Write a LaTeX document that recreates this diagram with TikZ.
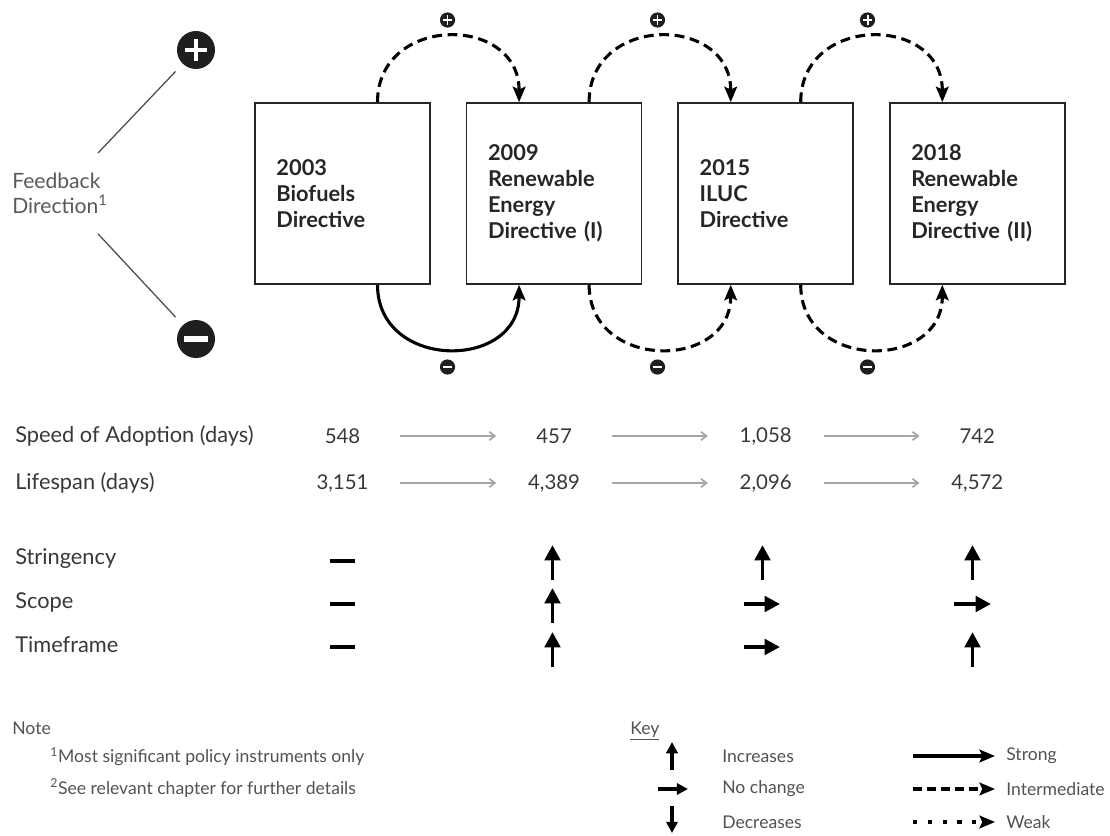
\documentclass[tikz,border=0pt]{standalone}
\usepackage{fontspec}
\setmainfont{Lato}
\usetikzlibrary{arrows.meta,positioning,calc}

\begin{document}
\begin{tikzpicture}[
    x=0.025cm, y=-0.025cm,
    node distance=0.875cm,
    dirbox/.style={rectangle, draw=black!85, line width=1.1pt, minimum width=4.375cm, minimum height=4.525cm, text width=3.3cm, align=left, inner sep=0pt, font=\fontsize{15.5}{18.5}\selectfont\bfseries, text=black!85},
    lbl/.style={anchor=west, inner sep=0pt, font=\fontsize{15.5}{18}\selectfont, text=black!78},
    num/.style={inner sep=0pt, minimum width=2.875cm, font=\fontsize{14.5}{17}\selectfont, text=black!78},
    small/.style={anchor=west, inner sep=0pt, font=\fontsize{12.5}{15}\selectfont, text=black!68},
    sign/.style={circle, fill=black!88, inner sep=0pt, minimum size=#1},
    plussign/.style={sign=#1, path picture={
        \draw[white, line width=0.13*#1] ([xshift=-0.3*#1]path picture bounding box.center) -- ([xshift=0.3*#1]path picture bounding box.center)
            ([yshift=-0.3*#1]path picture bounding box.center) -- ([yshift=0.3*#1]path picture bounding box.center);}},
    minussign/.style={sign=#1, path picture={
        \draw[white, line width=0.16*#1] ([xshift=-0.32*#1]path picture bounding box.center) -- ([xshift=0.32*#1]path picture bounding box.center);}},
    fbline/.style={draw=black!70, line width=0.9pt},
    fb/.style={line width=2.2pt, -{Stealth[length=11pt,width=9pt,inset=2pt]}},
    fbdash/.style={fb, dash pattern=on 7pt off 4pt},
    grayarrow/.style={draw=black!35, line width=1.2pt, -{Straight Barb[length=4pt,width=6pt]}},
    trend/.style={line width=2.8pt, -{Triangle[length=11pt,width=11pt]}},
    keytrend/.style={line width=2.2pt, -{Triangle[length=8pt,width=8pt]}},
    keyline/.style={line width=2.2pt, -{Stealth[length=11pt,width=9pt,inset=2pt]}}
]
\useasboundingbox (0,0) rectangle (1110,835);

% directives
\node[dirbox] (d2003) at (342.5,193.5) {2003\\Biofuels\\Directive};
\node[dirbox, right=of d2003] (d2009) {2009\\Renewable\\Energy\\Directive (I)};
\node[dirbox, right=of d2009] (d2015) {2015\\ILUC\\Directive};
\node[dirbox, right=of d2015] (d2018) {2018\\Renewable\\Energy\\Directive (II)};

% feedback direction
\node[lbl, align=left, font=\fontsize{15}{18}\selectfont, text=black!65] (fbdir) at (12,193) {Feedback\\Direction\textsuperscript{1}};
\node[plussign=0.95cm] (bigplus) at (196,50) {};
\node[minussign=0.95cm] (bigminus) at (196,339) {};
\draw[fbline] ($(fbdir)!0.28!(bigplus)$) -- ($(fbdir)!0.85!(bigplus)$);
\draw[fbline] ($(fbdir)!0.28!(bigminus)$) -- ($(fbdir)!0.85!(bigminus)$);

% positive feedback
\draw[fbdash] ($(d2003.north)+(35,0)$) .. controls +(0,-88) and +(0,-88) .. ($(d2009.north)+(-35,0)$);
\draw[fbdash] ($(d2009.north)+(35,0)$) .. controls +(0,-88) and +(0,-88) .. ($(d2015.north)+(-35,0)$);
\draw[fbdash] ($(d2015.north)+(35,0)$) .. controls +(0,-88) and +(0,-88) .. ($(d2018.north)+(-35,0)$);
\node[plussign=0.38cm] (plus1) at (447.5,20) {};
\node[plussign=0.38cm] (plus2) at (657.5,20) {};
\node[plussign=0.38cm] (plus3) at (867.5,20) {};

% negative feedback
\draw[fb] ($(d2003.south)+(35,0)$) .. controls +(0,86) and +(0,86) .. ($(d2009.south)+(-35,0)$);
\draw[fbdash] ($(d2009.south)+(35,0)$) .. controls +(0,86) and +(0,86) .. ($(d2015.south)+(-35,0)$);
\draw[fbdash] ($(d2015.south)+(35,0)$) .. controls +(0,86) and +(0,86) .. ($(d2018.south)+(-35,0)$);
\node[minussign=0.38cm] (minus1) at (447.5,367) {};
\node[minussign=0.38cm] (minus2) at (657.5,367) {};
\node[minussign=0.38cm] (minus3) at (867.5,367) {};

% adoption and lifespan
\node[lbl] (speed) at (15,436) {Speed of Adoption (days)};
\node[num] (s548) at (d2003 |- speed) {548};
\node[num] (s457) at (d2009 |- speed) {457};
\node[num] (s1058) at (d2015 |- speed) {1,058};
\node[num] (s742) at (d2018 |- speed) {742};
\draw[grayarrow] (s548) -- (s457);
\draw[grayarrow] (s457) -- (s1058);
\draw[grayarrow] (s1058) -- (s742);
\node[lbl] (life) at (15,483) {Lifespan (days)};
\node[num] (l3151) at (d2003 |- life) {3,151};
\node[num] (l4389) at (d2009 |- life) {4,389};
\node[num] (l2096) at (d2015 |- life) {2,096};
\node[num] (l4572) at (d2018 |- life) {4,572};
\draw[grayarrow] (l3151) -- (l4389);
\draw[grayarrow] (l4389) -- (l2096);
\draw[grayarrow] (l2096) -- (l4572);

% stringency, scope, timeframe
\node[lbl] (string) at (15,559) {Stringency};
\node[lbl] (scope) at (15,602) {Scope};
\node[lbl] (time) at (15,645) {Timeframe};
\draw[line width=3.5pt] (330,561) -- (355,561);
\draw[line width=3.5pt] (330,604) -- (355,604);
\draw[line width=3.5pt] (330,647) -- (355,647);
\draw[trend] (552.5,580) -- (552.5,545);
\draw[trend] (552.5,623) -- (552.5,588);
\draw[trend] (552.5,667) -- (552.5,632);
\draw[trend] (762.5,580) -- (762.5,545);
\draw[trend] (744,604) -- (780,604);
\draw[trend] (744,647) -- (780,647);
\draw[trend] (972.5,580) -- (972.5,545);
\draw[trend] (954,604) -- (991,604);
\draw[trend] (972.5,667) -- (972.5,632);

% note
\node[small] (note) at (12,728) {Note};
\node[small] (fn1) at (50,757) {\textsuperscript{1}Most significant policy instruments only};
\node[small] (fn2) at (50,788) {\textsuperscript{2}See relevant chapter for further details};

% key
\node[small] (key) at (630,731) {\underline{Key}};
\draw[keytrend] (672,770) -- (672,742);
\draw[keytrend] (658,789) -- (688,789);
\draw[keytrend] (672,806) -- (672,833);
\node[small] (kinc) at (722,756) {Increases};
\node[small] (knone) at (722,789) {No change};
\node[small] (kdec) at (722,822) {Decreases};
\draw[keyline] (913,756) -- (995,756);
\draw[keyline, dash pattern=on 6.5pt off 3.5pt] (913,789) -- (995,789);
\draw[keyline, dash pattern=on 3pt off 7.5pt] (913,822) -- (995,822);
\node[small] (kstrong) at (1006,756) {Strong};
\node[small] (kinter) at (1006,789) {Intermediate};
\node[small] (kweak) at (1006,822) {Weak};
\end{tikzpicture}
\end{document}
